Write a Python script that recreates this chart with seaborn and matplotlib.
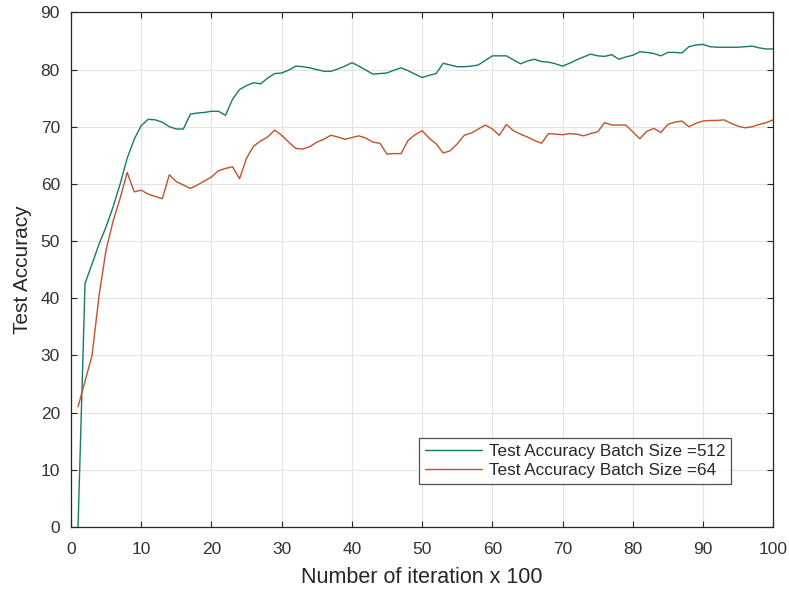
import numpy as np
import pandas as pd
import seaborn as sns
import matplotlib
matplotlib.use("Agg")
import matplotlib.pyplot as plt

# iteration index (x 100)
iterations = list(range(1, 101))

acc_batch_512 = [
    0.0, 42.6, 46.0, 49.5, 52.5, 56.0, 60.0, 64.5, 67.8, 70.2,
    71.3, 71.2, 70.8, 70.0, 69.6, 69.6, 72.2, 72.4, 72.5, 72.7,
    72.7, 72.0, 74.8, 76.5, 77.2, 77.7, 77.5, 78.5, 79.3, 79.4,
    79.9, 80.6, 80.5, 80.3, 80.0, 79.7, 79.7, 80.1, 80.6, 81.2,
    80.6, 79.9, 79.2, 79.3, 79.4, 79.9, 80.3, 79.8, 79.2, 78.6,
    79.0, 79.3, 81.1, 80.8, 80.5, 80.5, 80.6, 80.8, 81.6, 82.4,
    82.4, 82.4, 81.7, 81.0, 81.5, 81.8, 81.4, 81.3, 81.0, 80.6,
    81.1, 81.7, 82.2, 82.7, 82.4, 82.3, 82.6, 81.8, 82.2, 82.5,
    83.1, 83.0, 82.8, 82.4, 83.0, 83.0, 82.9, 84.0, 84.3, 84.4,
    84.0, 83.9, 83.9, 83.9, 83.9, 84.0, 84.1, 83.8, 83.6, 83.6,
]

acc_batch_64 = [
    21.0, 25.5, 30.0, 40.5, 48.5, 53.5, 57.5, 62.0, 58.6, 58.9,
    58.2, 57.8, 57.4, 61.6, 60.4, 59.8, 59.2, 59.8, 60.5, 61.2,
    62.3, 62.7, 63.0, 60.9, 64.5, 66.6, 67.5, 68.2, 69.4, 68.5,
    67.3, 66.2, 66.1, 66.5, 67.3, 67.8, 68.5, 68.2, 67.8, 68.1,
    68.4, 68.0, 67.3, 67.1, 65.2, 65.3, 65.3, 67.6, 68.6, 69.3,
    68.0, 67.0, 65.4, 65.8, 67.0, 68.5, 68.9, 69.6, 70.3, 69.6,
    68.5, 70.4, 69.3, 68.7, 68.2, 67.6, 67.1, 68.8, 68.7, 68.6,
    68.8, 68.7, 68.4, 68.8, 69.1, 70.7, 70.3, 70.3, 70.3, 69.1,
    67.9, 69.2, 69.7, 69.0, 70.4, 70.8, 71.0, 70.0, 70.6, 71.0,
    71.1, 71.1, 71.2, 70.6, 70.1, 69.8, 70.0, 70.4, 70.7, 71.2,
]

series_labels = ["Test Accuracy Batch Size =512", "Test Accuracy Batch Size =64"]
x_ticks = list(range(0, 101, 10))
y_ticks = list(range(0, 91, 10))

df = pd.concat([
    pd.DataFrame({"iter": iterations, "acc": acc_batch_512, "series": series_labels[0]}),
    pd.DataFrame({"iter": iterations, "acc": acc_batch_64, "series": series_labels[1]}),
])

sns.set_style("white")
plt.rcParams["font.family"] = ["Liberation Sans", "DejaVu Sans"]

fig = plt.figure(figsize=(7.89, 5.90), dpi=100)
ax = fig.add_axes([0.090, 0.107, 0.890, 0.872])

sns.lineplot(data=df, x="iter", y="acc", hue="series",
             palette=["#167a6a", "#c0522a"], linewidth=1.0, ax=ax)

ax.set_xlim(0, 100)
ax.set_ylim(0, 90)
ax.set_xticks(x_ticks)
ax.set_yticks(y_ticks)
ax.grid(True, color="#e3e3e3", linewidth=0.8)
ax.set_axisbelow(True)
for s in ax.spines.values():
    s.set_color("#262626")
    s.set_linewidth(0.9)
    s.set_visible(True)
ax.tick_params(direction="in", length=4, width=0.8, color="#262626",
               labelsize=12.5, labelcolor="#333333",
               top=True, right=True, bottom=True, left=True)
ax.tick_params(axis="x", pad=11)
ax.tick_params(axis="y", pad=8)

ax.set_xlabel("Number of iteration x 100", fontsize=15.5, color="#262626", labelpad=7)
ax.set_ylabel("Test Accuracy", fontsize=15, color="#262626", labelpad=6)

leg = ax.legend(loc="lower right", bbox_to_anchor=(0.940, 0.084),
                fontsize=12.3, frameon=True, fancybox=False,
                edgecolor="#262626", handlelength=3.3, handletextpad=0.4,
                borderpad=0.35, labelspacing=0.2, borderaxespad=0)
leg.get_frame().set_linewidth(0.9)
for line in leg.get_lines():
    line.set_linewidth(1.0)

fig.savefig("out.png", dpi=100)
